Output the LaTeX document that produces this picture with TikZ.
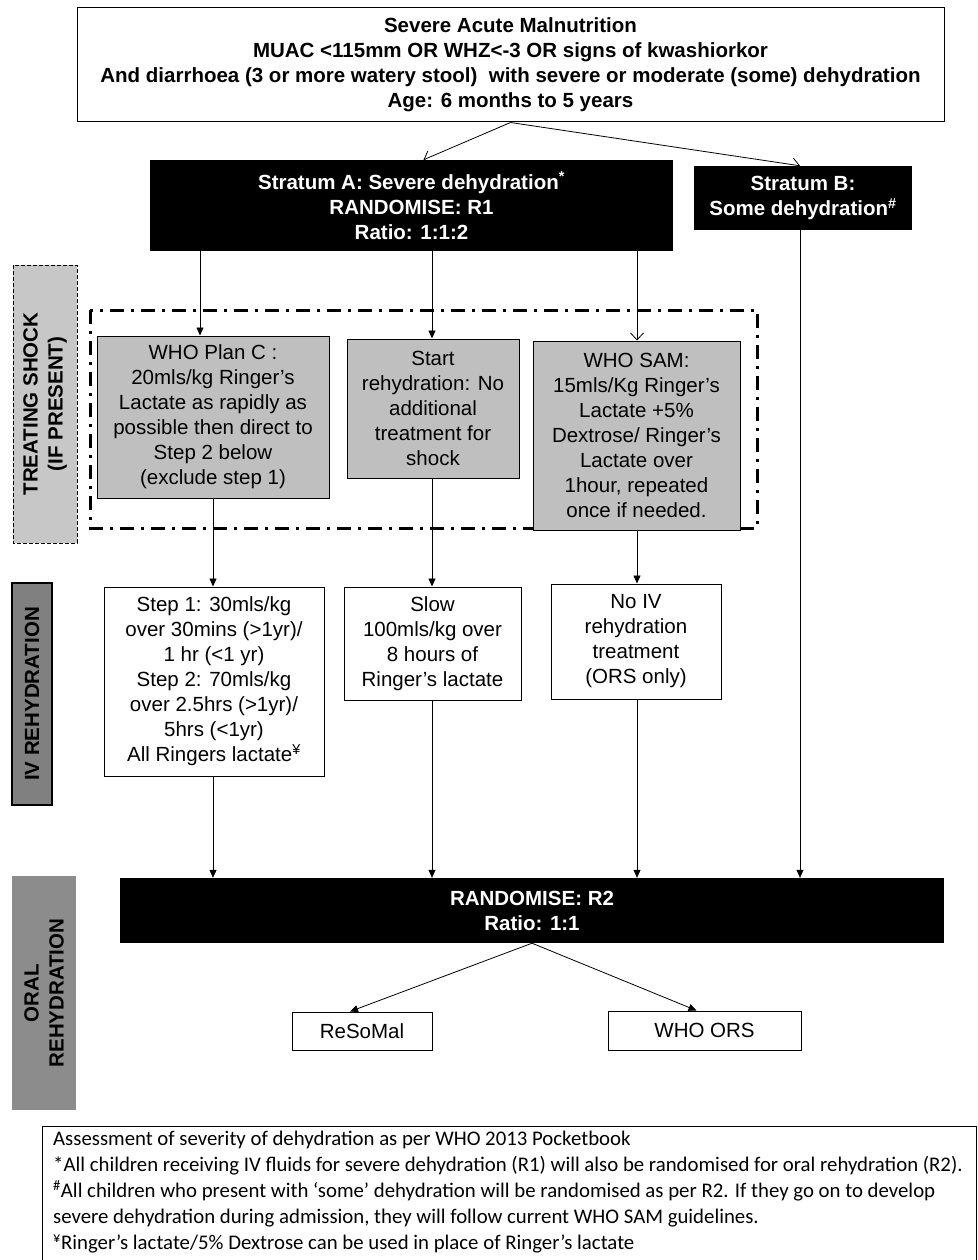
\documentclass[tikz,border=0pt]{standalone}
\usepackage{fontspec}
\setmainfont{Liberation Sans}
\newfontfamily\notefont{Carlito}
\usetikzlibrary{arrows.meta}
\definecolor{shockgray}{gray}{0.75}
\definecolor{labelgray}{gray}{0.78}
\definecolor{ivgray}{gray}{0.5}
\definecolor{oralgray}{gray}{0.55}
\newcommand*{\boxfont}{\fontsize{20.5}{25}\selectfont}

\begin{document}
\begin{tikzpicture}[x=1pt,y=-1pt,
    every node/.style={inner sep=0pt, align=center, font=\boxfont},
    flowbox/.style={draw, line width=1pt, fill=white},
    shockbox/.style={draw, line width=1pt, fill=shockgray},
    blackbox/.style={fill=black, text=white, font=\boxfont\bfseries},
    sidebox/.style={rotate=90, font=\boxfont\bfseries},
    link/.style={line width=0.8pt, -{Triangle[length=8pt,width=7pt]}},
    barb/.style={line width=0.8pt, -{Straight Barb[length=7pt,width=13pt]}},
]
    \useasboundingbox (0,0) rectangle (977,1260);

    % columns of the vertical connectors
    \coordinate (colA) at (200,0);
    \coordinate (colB) at (213,0);
    \coordinate (colC) at (432,0);
    \coordinate (colD) at (637,0);
    \coordinate (colE) at (800,0);

    % side labels
    \node[sidebox, draw, dash pattern=on 4pt off 2pt, line width=0.6pt, fill=labelgray, minimum width=278, minimum height=64] (shocklbl) at (45,404) {TREATING SHOCK\\(IF PRESENT)};
    \node[sidebox, draw, line width=1.2pt, fill=ivgray, minimum width=222, minimum height=40] (ivlbl) at (32,694) {IV REHYDRATION};
    \node[sidebox, fill=oralgray, minimum width=234, minimum height=64] (orallbl) at (44,993) {ORAL\\REHYDRATION};

    % frame round the shock treatments
    \draw[line width=3pt, dash pattern=on 14pt off 7pt on 3pt off 7pt] (90,310) rectangle (757,528);

    % eligibility and strata
    \node[flowbox, minimum width=867, minimum height=114, font=\boxfont\bfseries] (top) at (510.5,65) {Severe Acute Malnutrition\\MUAC <115mm OR WHZ<-3 OR signs of kwashiorkor\\And diarrhoea (3 or more watery stool)\ \ with severe or moderate (some) dehydration\\Age: 6 months to 5 years};
    \node[blackbox, minimum width=523, minimum height=91] (stratA) at (411.5,205.5) {Stratum A: Severe dehydration\textsuperscript{*}\\RANDOMISE: R1\\Ratio: 1:1:2};
    \node[blackbox, minimum width=218, minimum height=64] (stratB) at (803,198) {Stratum B:\\Some dehydration\textsuperscript{\#}};

    % treating shock
    \node[shockbox, minimum width=232, minimum height=162] (planC) at (213,417) {WHO Plan C :\\20mls/kg Ringer’s\\Lactate as rapidly as\\possible then direct to\\Step 2 below\\(exclude step 1)};
    \node[shockbox, minimum width=172, minimum height=139] (startreh) at (433,408.5) {Start\\rehydration: No\\additional\\treatment for\\shock};
    \node[shockbox, minimum width=207, minimum height=189] (whosam) at (636.5,435.5) {WHO SAM:\\15mls/Kg Ringer’s\\Lactate +5\%\\Dextrose/ Ringer’s\\Lactate over\\1hour, repeated\\once if needed.};

    % IV rehydration
    \node[flowbox, minimum width=220, minimum height=189] (stepiv) at (214,681.5) {Step 1: 30mls/kg\\over 30mins (>1yr)/\\1 hr (<1 yr)\\Step 2: 70mls/kg\\over 2.5hrs (>1yr)/\\5hrs (<1yr)\\All Ringers lactate\textsuperscript{¥}};
    \node[flowbox, minimum width=177, minimum height=113] (slowiv) at (432.5,643.5) {Slow\\100mls/kg over\\8 hours of\\Ringer’s lactate};
    \node[flowbox, minimum width=170, minimum height=115] (noiv) at (636,641.5) {No IV\\rehydration\\treatment\\(ORS only)};

    % oral rehydration
    \node[blackbox, minimum width=824, minimum height=65] (rtwo) at (532,910.5) {RANDOMISE: R2\\Ratio: 1:1};
    \node[flowbox, minimum width=140, minimum height=38] (resomal) at (362,1031) {ReSoMal};
    \node[flowbox, minimum width=193, minimum height=39] (whoors) at (704.5,1030.5) {WHO ORS};

    % connectors
    \draw[barb] (top.south) -- ([xshift=12pt]stratA.north);
    \draw[barb] (top.south) -- ([xshift=-3pt]stratB.north);
    \draw[link] (stratA.south -| colA) -- (planC.north -| colA);
    \draw[link] (stratA.south -| colC) -- (startreh.north -| colC);
    \draw[barb] (stratA.south -| colD) -- (whosam.north -| colD);
    \draw[link] (planC.south -| colB) -- (stepiv.north -| colB);
    \draw[link] (startreh.south -| colC) -- (slowiv.north -| colC);
    \draw[link] (whosam.south -| colD) -- (noiv.north -| colD);
    \draw[link] (stepiv.south -| colB) -- (rtwo.north -| colB);
    \draw[link] (slowiv.south -| colC) -- (rtwo.north -| colC);
    \draw[link] (noiv.south -| colD) -- (rtwo.north -| colD);
    \draw[link] (stratB.south -| colE) -- (rtwo.north -| colE);
    \draw[link] (rtwo.south) -- ([xshift=-12pt]resomal.north);
    \draw[link] (rtwo.south) -- ([xshift=-8pt]whoors.north);

    % footnotes
    \node[draw, line width=1pt, minimum width=934, minimum height=150, anchor=north west] (notebox) at (42,1126) {};
    \node[anchor=north west, align=left, font=\notefont\fontsize{20.8}{26}\selectfont] (notes) at ([xshift=11pt,yshift=-5pt]notebox.north west) {Assessment of severity of dehydration as per WHO 2013 Pocketbook\\*All children receiving IV fluids for severe dehydration (R1) will also be randomised for oral rehydration (R2).\\\textsuperscript{\#}All children who present with ‘some’ dehydration will be randomised as per R2. If they go on to develop\\severe dehydration during admission, they will follow current WHO SAM guidelines.\\\textsuperscript{¥}Ringer’s lactate/5\% Dextrose can be used in place of Ringer’s lactate};
\end{tikzpicture}
\end{document}
